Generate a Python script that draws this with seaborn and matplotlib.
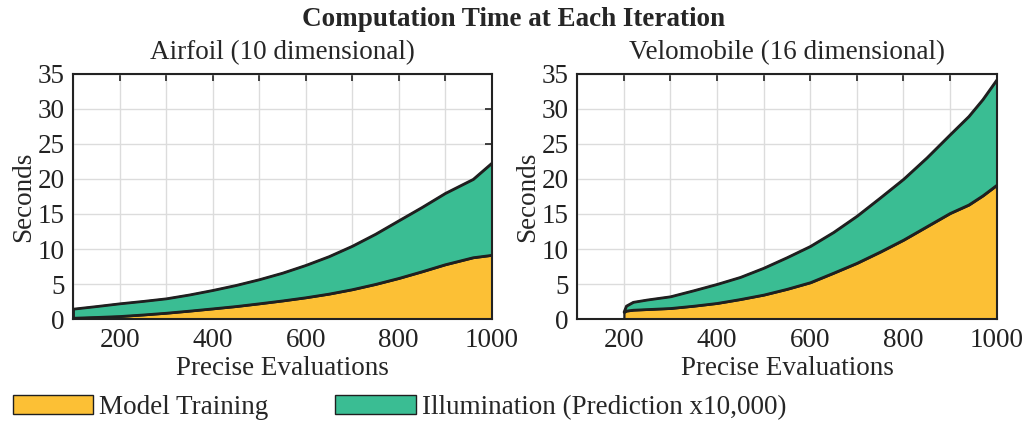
import matplotlib
matplotlib.use("Agg")
import matplotlib.pyplot as plt
import seaborn as sns
from matplotlib.patches import Patch
from matplotlib.ticker import MultipleLocator, FuncFormatter

# Airfoil (10 dimensional)
airfoil_x = [100, 150, 200, 250, 300, 350, 400, 450, 500, 550, 600, 650, 700, 750, 800, 850, 900, 960, 1000]
airfoil_model = [0.19, 0.3, 0.43, 0.65, 0.9, 1.2, 1.52, 1.85, 2.24, 2.65, 3.1, 3.62, 4.25, 5.0, 5.85, 6.8, 7.8, 8.8, 9.14]
airfoil_total = [1.48, 1.85, 2.24, 2.58, 2.95, 3.5, 4.14, 4.85, 5.67, 6.6, 7.7, 8.95, 10.43, 12.14, 14.05, 15.95, 17.95, 19.95, 22.24]

# Velomobile (16 dimensional)
velo_x = [200, 205, 220, 250, 300, 350, 400, 450, 500, 550, 600, 650, 700, 750, 800, 850, 900, 940, 970, 1000]
velo_model = [1.0, 1.2, 1.33, 1.42, 1.57, 1.9, 2.29, 2.85, 3.48, 4.3, 5.24, 6.6, 8.0, 9.6, 11.3, 13.2, 15.1, 16.3, 17.6, 19.1]
velo_total = [1.05, 1.9, 2.45, 2.78, 3.24, 4.1, 5.0, 6.0, 7.3, 8.8, 10.4, 12.4, 14.7, 17.3, 19.96, 23.0, 26.3, 28.9, 31.3, 34.1]

titles = ["Airfoil (10 dimensional)", "Velomobile (16 dimensional)"]
series = [(airfoil_x, airfoil_model, airfoil_total), (velo_x, velo_model, velo_total)]
labels = ["Model Training", "Illumination (Prediction x10,000)"]

yellow = "#fcc035"
green = "#3abd93"
edge = "#1f1f1f"

sns.set_theme(style="white")
plt.rcParams["font.family"] = ["Liberation Serif", "DejaVu Serif"]

W, H = 1026, 421
fig = plt.figure(figsize=(W / 100, H / 100), dpi=100)
axes = [fig.add_axes([73.3 / W, 101.7 / H, 418.4 / W, 245.8 / H]),
        fig.add_axes([577.3 / W, 101.7 / H, 419.4 / W, 245.8 / H])]

fs = 19.5
for ax, title, (x, model, total) in zip(axes, titles, series):
    ax.fill_between(x, 0, model, facecolor=yellow, edgecolor=edge, linewidth=1.6, zorder=2)
    ax.fill_between(x, model, total, facecolor=green, edgecolor=edge, linewidth=1.6, zorder=2)
    sns.lineplot(x=x, y=total, ax=ax, color=edge, linewidth=1.6, zorder=3)
    sns.lineplot(x=x, y=model, ax=ax, color=edge, linewidth=1.6, zorder=3)

    ax.set_xlim(100, 1000)
    ax.set_ylim(0, 35)
    ax.xaxis.set_major_locator(MultipleLocator(100))
    ax.xaxis.set_major_formatter(FuncFormatter(lambda v, p: f"{int(v)}" if int(round(v)) % 200 == 0 else ""))
    ax.yaxis.set_major_locator(MultipleLocator(5))
    ax.grid(True, color="#dcdcdc", linewidth=1.0, zorder=0)
    ax.set_axisbelow(True)
    ax.tick_params(direction="in", length=5, width=1.2, top=True, right=True,
                   labelsize=fs, colors="#222222")
    ax.tick_params(axis="x", pad=6.5)
    ax.tick_params(axis="y", pad=6)
    for s in ax.spines.values():
        s.set_color("#222222")
        s.set_linewidth(1.5)
    ax.set_title(title, fontsize=fs, pad=10.5)
    ax.set_xlabel("Precise Evaluations", fontsize=fs, labelpad=2)
    ax.set_ylabel("Seconds", fontsize=fs, labelpad=1)

fig.text(0.5, 1 - 20 / H, "Computation Time at Each Iteration", fontsize=19.5,
         fontweight="bold", ha="center", va="center")

handles = [Patch(facecolor=yellow, edgecolor=edge, linewidth=1.0),
           Patch(facecolor=green, edgecolor=edge, linewidth=1.0)]
for h, lab, x0 in zip(handles, labels, [12.7 / W, 335 / W]):
    fig.legend([h], [lab], loc="lower left", bbox_to_anchor=(x0, 1 / H),
               frameon=False, fontsize=fs, handlelength=2.98, handleheight=0.67,
               handletextpad=0.22, borderpad=0, borderaxespad=0)

fig.savefig("out.png", dpi=100)
